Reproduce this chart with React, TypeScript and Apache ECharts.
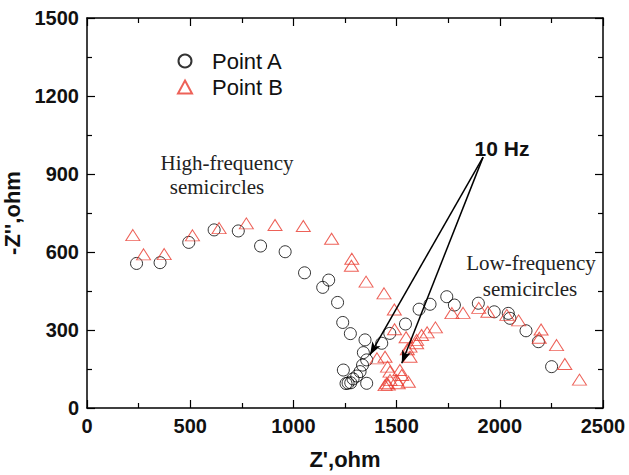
import React, { useEffect, useRef } from "react";
import * as echarts from "echarts";

// Z' (ohm), -Z'' (ohm)
const pointA: number[][] = [
  [240, 556], [354, 559], [493, 637], [616, 685], [733, 681], [841, 623],
  [960, 601], [1054, 520], [1171, 492], [1142, 464], [1214, 406], [1239, 329],
  [1276, 286], [1347, 262], [1339, 213], [1355, 185], [1335, 165], [1242, 146],
  [1323, 140], [1307, 123], [1289, 112], [1278, 97], [1265, 96], [1255, 94],
  [1355, 95], [1428, 249], [1467, 287], [1543, 323], [1609, 380], [1662, 399],
  [1743, 428], [1780, 396], [1896, 403], [1973, 370], [2041, 364], [2049, 345],
  [2127, 297], [2187, 255], [2251, 159],
];

const pointB: number[][] = [
  [222, 665], [274, 591], [374, 592], [511, 664], [640, 692], [772, 710],
  [911, 704], [1048, 700], [1185, 651], [1283, 574], [1281, 547], [1352, 486],
  [1439, 441], [1489, 379], [1490, 303], [1405, 191], [1444, 197], [1456, 159],
  [1468, 140], [1516, 146], [1525, 127], [1468, 108], [1452, 95], [1444, 88],
  [1460, 90], [1500, 108], [1508, 95], [1557, 101], [1565, 197], [1552, 226],
  [1546, 272], [1597, 262], [1565, 236], [1597, 249], [1621, 281], [1648, 291],
  [1688, 310], [1768, 365], [1822, 366], [1898, 385], [1942, 370], [2034, 358],
  [2091, 337], [2200, 302], [2191, 270], [2275, 242], [2315, 169], [2386, 109],
];

// arrows from "10 Hz" label to the 10 Hz points
const arrowStart: number[] = [1919, 965];
const arrowEnds: number[][] = [[1371, 204], [1525, 172]];

const xTicks = { min: 0, max: 2500, interval: 500 };
const yTicks = { min: 0, max: 1500, interval: 300 };

const SANS = "'Liberation Sans', Arial, Helvetica, sans-serif";
const SERIF = "'Liberation Serif', 'Times New Roman', serif";

export default function App() {
  const ref = useRef<HTMLDivElement>(null);
  useEffect(() => {
    if (!ref.current) return;
    const chart = echarts.init(ref.current, undefined, { renderer: "svg" });
    const axisCommon = {
      axisLine: { show: true, onZero: false, lineStyle: { color: "#000", width: 1.5 } },
      axisTick: { show: true, inside: true, length: 8, lineStyle: { color: "#000", width: 1.2 } },
      minorTick: { show: true, splitNumber: 2, length: 5, lineStyle: { color: "#000", width: 1.2 } },
      splitLine: { show: false },
    };
    const labelStyle = {
      color: "#111", fontSize: 20, fontWeight: "bold" as const, fontFamily: SANS, margin: 8,
      formatter: (v: number) => String(v),
    };
    chart.setOption({
      animation: false,
      backgroundColor: "#fff",
      grid: { left: 87, top: 18, right: 26, bottom: 67, containLabel: false, outerBoundsMode: "none" },
      legend: {
        orient: "vertical",
        left: 177,
        top: 50,
        padding: 0,
        itemWidth: 14,
        itemHeight: 13,
        itemGap: 4,
        textStyle: { fontSize: 22, fontFamily: SANS, color: "#111", padding: [0, 0, 0, 15] },
        data: ["Point A", "Point B"],
      },
      xAxis: [
        {
          type: "value", ...xTicks, position: "bottom", ...axisCommon,
          axisLabel: labelStyle,
          name: "Z',ohm", nameLocation: "middle", nameGap: 40,
          nameTextStyle: { fontSize: 22, fontWeight: "bold", fontFamily: SANS, color: "#111" },
        },
        {
          type: "value", ...xTicks, position: "top", ...axisCommon,
          axisLabel: { show: false },
        },
      ],
      yAxis: [
        {
          type: "value", ...yTicks, position: "left", ...axisCommon,
          axisLabel: labelStyle,
          name: "-Z'',ohm", nameLocation: "middle", nameGap: 63,
          nameTextStyle: { fontSize: 22, fontWeight: "bold", fontFamily: SANS, color: "#111" },
        },
        {
          type: "value", ...yTicks, position: "right", ...axisCommon,
          axisLabel: { show: false },
        },
      ],
      series: [
        {
          name: "Point A",
          type: "scatter",
          data: pointA,
          symbol: "circle",
          symbolSize: 12,
          itemStyle: { color: "rgba(255,255,255,0)", borderColor: "#000", borderWidth: 1 },
          markLine: {
            silent: true,
            symbol: ["none", "arrow"],
            symbolSize: [7, 13],
            label: { show: false },
            lineStyle: { color: "#000", width: 1.5, type: "solid" },
            data: arrowEnds.map((e) => [
              { coord: arrowStart, symbol: "none" },
              { coord: e, symbol: "arrow" },
            ]),
          },
        },
        {
          name: "Point B",
          type: "scatter",
          data: pointB,
          symbol: "triangle",
          symbolSize: [14, 11],
          itemStyle: { color: "rgba(255,255,255,0)", borderColor: "#e8392e", borderWidth: 1 },
        },
      ],
      graphic: [
        { type: "text", x: 227, y: 163, style: { text: "High-frequency", font: `21px ${SERIF}`, fill: "#222", textAlign: "center", verticalAlign: "middle", textVerticalAlign: "middle" } },
        { type: "text", x: 217, y: 187, style: { text: "semicircles", font: `21px ${SERIF}`, fill: "#222", textAlign: "center", verticalAlign: "middle", textVerticalAlign: "middle" } },
        { type: "text", x: 531, y: 263, style: { text: "Low-frequency", font: `21px ${SERIF}`, fill: "#222", textAlign: "center", verticalAlign: "middle", textVerticalAlign: "middle" } },
        { type: "text", x: 530, y: 289, style: { text: "semicircles", font: `21px ${SERIF}`, fill: "#222", textAlign: "center", verticalAlign: "middle", textVerticalAlign: "middle" } },
        { type: "text", x: 502, y: 148, style: { text: "10 Hz", font: `bold 21px ${SANS}`, fill: "#111", textAlign: "center", verticalAlign: "middle", textVerticalAlign: "middle" } },
      ],
    });
    return () => chart.dispose();
  }, []);
  return <div ref={ref} style={{ width: 629, height: 475, position: "absolute", left: 0, top: 0 }} />;
}
